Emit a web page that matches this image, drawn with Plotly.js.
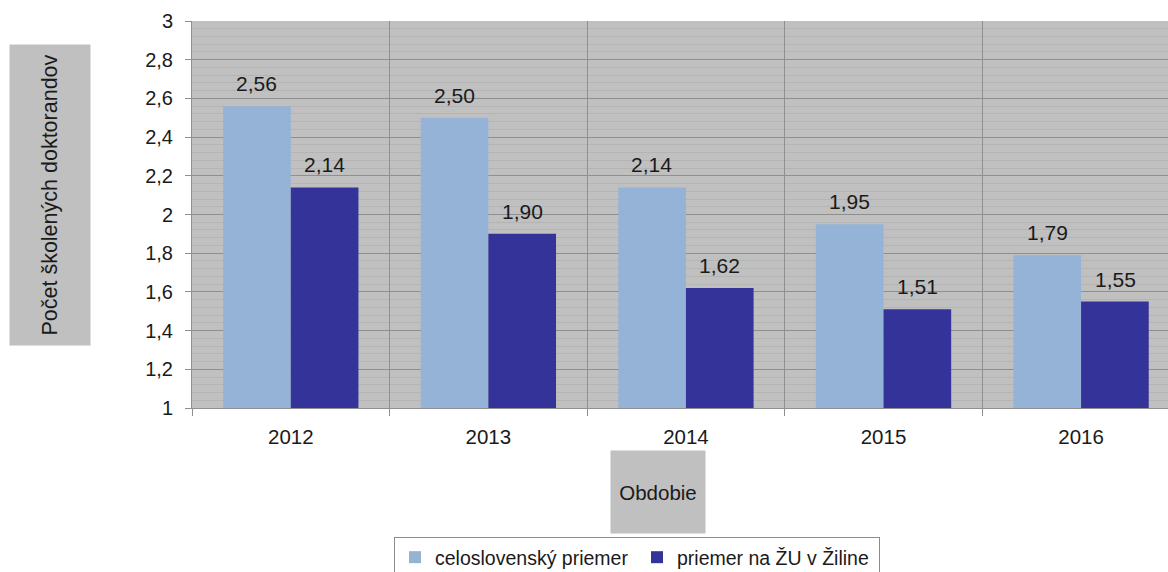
<!DOCTYPE html>
<html>
<head>
<meta charset="utf-8">
<script src="https://cdn.plot.ly/plotly-3.0.1.min.js"></script>
<style>html,body{margin:0;padding:0;background:#fff;overflow:hidden}</style>
</head>
<body>
<div id="chart" style="width:1168px;height:572px"></div>
<script>
const years = ['2012', '2013', '2014', '2015', '2016'];
const nationalAvg = [2.56, 2.50, 2.14, 1.95, 1.79];
const zuAvg = [2.14, 1.90, 1.62, 1.51, 1.55];
const seriesNames = ['celoslovenský priemer', 'priemer na ŽU v Žiline'];
const yTickVals = [1, 1.2, 1.4, 1.6, 1.8, 2, 2.2, 2.4, 2.6, 2.8, 3];
const yTitle = 'Počet školených doktorandov';
const xTitle = 'Obdobie';

const FONT = '"Liberation Sans", Arial, sans-serif';
const TXT = '#1a1a1a';
const fmt = v => v.toFixed(2).replace('.', ',');

const traces = [
  {type: 'bar', x: years, y: nationalAvg, name: seriesNames[0],
   marker: {color: '#95b3d7', line: {width: 0}}},
  {type: 'bar', x: years, y: zuAvg, name: seriesNames[1],
   marker: {color: '#333399', line: {width: 0}}}
];

const annotations = [];
[nationalAvg, zuAvg].forEach((vals, si) => {
  vals.forEach((v, i) => {
    annotations.push({
      x: i, y: v, xref: 'x', yref: 'y',
      xshift: si === 0 ? -34 : 34,
      text: fmt(v), showarrow: false, yanchor: 'bottom', yshift: 9,
      font: {family: FONT, size: 21, color: TXT}
    });
  });
});
annotations.push({
  xref: 'paper', yref: 'paper', x: (50 - 192) / 976, y: (408 - 195) / 387,
  text: yTitle, textangle: -90, showarrow: false, bgcolor: '#c0c0c0',
  width: 292, height: 72, borderpad: 4, xanchor: 'center', yanchor: 'middle',
  font: {family: FONT, size: 21.5, color: TXT}
});
annotations.push({
  xref: 'paper', yref: 'paper', x: (658 - 192) / 976, y: (408 - 492) / 387,
  text: xTitle, showarrow: false, bgcolor: '#c0c0c0',
  width: 90, height: 78, borderpad: 2, xanchor: 'center', yanchor: 'middle',
  font: {family: FONT, size: 20.5, color: TXT}
});

const layout = {
  width: 1168, height: 572,
  margin: {l: 192, r: 0, t: 21, b: 164, autoexpand: false},
  paper_bgcolor: '#ffffff', plot_bgcolor: '#c0c0c0',
  separators: ',.',
  barmode: 'group', bargap: 0.315, bargroupgap: 0,
  font: {family: FONT, size: 20, color: TXT},
  showlegend: true,
  legend: {
    orientation: 'h', x: (394 - 192) / 976, y: (408 - 537) / 387,
    xanchor: 'left', yanchor: 'top',
    bgcolor: '#ffffff', bordercolor: '#8c8c8c', borderwidth: 1,
    font: {family: FONT, size: 19.5, color: TXT},
    entrywidth: 197, entrywidthmode: 'pixels', itemclick: false
  },
  xaxis: {
    type: 'category', range: [-0.5, 4.44], tickson: 'boundaries',
    automargin: false,
    showgrid: true, gridcolor: '#8f8f8f', gridwidth: 1,
    ticks: 'outside', ticklen: 7, tickcolor: '#8f8f8f',
    ticklabelstandoff: 10,
    showline: true, linecolor: '#8f8f8f', linewidth: 1,
    tickfont: {family: FONT, size: 20.5, color: TXT},
    fixedrange: true
  },
  yaxis: {
    range: [1, 3], tickvals: yTickVals, tickformat: '~g',
    automargin: false,
    showgrid: true, gridcolor: '#8f8f8f', gridwidth: 1,
    ticks: 'outside', ticklen: 6, tickcolor: '#8f8f8f',
    ticklabelstandoff: 8,
    showline: true, linecolor: '#8f8f8f', linewidth: 1,
    zeroline: false,
    minor: {dtick: 0.04, showgrid: true, gridcolor: '#b4b4b4', gridwidth: 1, ticks: ''},
    tickfont: {family: FONT, size: 20, color: TXT},
    fixedrange: true
  },
  annotations: annotations
};

Plotly.newPlot('chart', traces, layout, {displayModeBar: false, staticPlot: true});
</script>
</body>
</html>
